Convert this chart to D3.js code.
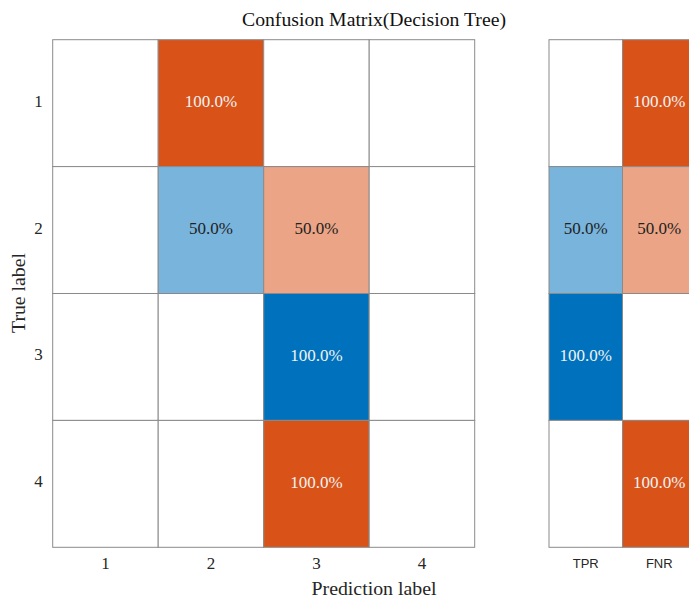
<!DOCTYPE html>
<html>
<head>
<meta charset="utf-8">
<script src="https://cdn.jsdelivr.net/npm/d3@7/dist/d3.min.js"></script>
<style>
  html, body { margin: 0; padding: 0; background: #fff; }
  svg { display: block; }
</style>
</head>
<body>
<svg id="chart" width="689" height="599"></svg>
<script>
// Class labels (true and predicted)
const classes = ["1", "2", "3", "4"];
// Row-normalised confusion matrix, percent (rows = true label, columns = predicted label)
const row1 = [0, 100, 0, 0];
const row2 = [0, 50, 50, 0];
const row3 = [0, 0, 100, 0];
const row4 = [0, 0, 100, 0];
const matrix = [row1, row2, row3, row4];
// Per-class summary columns
const summaryLabels = ["TPR", "FNR"];
const tpr = [0, 50, 100, 0];
const fnr = [100, 50, 0, 100];

const titleText = "Confusion Matrix(Decision Tree)";
const xTitle = "Prediction label";
const yTitle = "True label";

const blue = "#0072BD", orange = "#D95319", border = "#8a8a8a";
const serif = "'Liberation Serif', 'DejaVu Serif', serif";
const sans = "'Liberation Sans', Arial, sans-serif";

const svg = d3.select("#chart");

const x = d3.scaleBand().domain(classes).range([52.7, 474.7]);
const y = d3.scaleBand().domain(classes).range([39.7, 547.3]);
const xs = d3.scaleBand().domain(summaryLabels).range([549, 696]);

// intensity: share of the base colour mixed into white
const mix = d3.scaleLinear().domain([0, 100]).range([0.06, 1]);
const fillFor = (v, good) => v === 0 ? "#fff" : d3.interpolateRgb("#fff", good ? blue : orange)(mix(v));
const textFor = v => v > 60 ? "#f2f2f2" : "#222";

// main matrix cells
const cells = [];
matrix.forEach((row, i) => row.forEach((v, j) => cells.push({ t: classes[i], p: classes[j], v, good: i === j })));

const g = svg.append("g");
g.selectAll("rect.cell").data(cells).join("rect")
  .attr("class", "cell")
  .attr("x", d => x(d.p)).attr("y", d => y(d.t))
  .attr("width", x.bandwidth()).attr("height", y.bandwidth())
  .attr("fill", d => fillFor(d.v, d.good))
  .attr("stroke", border).attr("stroke-width", 1);

g.selectAll("text.val").data(cells.filter(d => d.v > 0)).join("text")
  .attr("class", "val")
  .attr("x", d => x(d.p) + x.bandwidth() / 2)
  .attr("y", d => y(d.t) + y.bandwidth() / 2)
  .attr("dy", "0.22em").attr("text-anchor", "middle")
  .attr("font-family", serif).attr("font-size", 17)
  .attr("fill", d => textFor(d.v))
  .text(d => d.v.toFixed(1) + "%");

// summary columns
const summary = [];
classes.forEach((c, i) => {
  summary.push({ t: c, col: "TPR", v: tpr[i], good: true });
  summary.push({ t: c, col: "FNR", v: fnr[i], good: false });
});
const s = svg.append("g");
s.selectAll("rect").data(summary).join("rect")
  .attr("x", d => xs(d.col)).attr("y", d => y(d.t))
  .attr("width", xs.bandwidth()).attr("height", y.bandwidth())
  .attr("fill", d => fillFor(d.v, d.good))
  .attr("stroke", border).attr("stroke-width", 1);
s.selectAll("text").data(summary.filter(d => d.v > 0)).join("text")
  .attr("x", d => xs(d.col) + xs.bandwidth() / 2)
  .attr("y", d => y(d.t) + y.bandwidth() / 2)
  .attr("dy", "0.22em").attr("text-anchor", "middle")
  .attr("font-family", serif).attr("font-size", 17)
  .attr("fill", d => textFor(d.v))
  .text(d => d.v.toFixed(1) + "%");

// axes
const xAxis = svg.append("g").attr("transform", "translate(0,547.3)")
  .call(d3.axisBottom(x).tickSize(0).tickPadding(10));
const yAxis = svg.append("g").attr("transform", "translate(52.7,-2)")
  .call(d3.axisLeft(y).tickSize(0).tickPadding(10));
const sAxis = svg.append("g").attr("transform", "translate(0,547.3)")
  .call(d3.axisBottom(xs).tickSize(0).tickPadding(11));
[xAxis, yAxis, sAxis].forEach(a => a.select(".domain").remove());
[xAxis, yAxis].forEach(a => a.selectAll("text").attr("font-family", serif).attr("font-size", 17).attr("fill", "#262626"));
sAxis.selectAll("text").attr("font-family", sans).attr("font-size", 13).attr("fill", "#262626");

// titles
svg.append("text").attr("x", 374).attr("y", 26).attr("text-anchor", "middle")
  .attr("font-family", serif).attr("font-size", 18).attr("fill", "#111")
  .attr("textLength", 264).attr("lengthAdjust", "spacingAndGlyphs")
  .text(titleText);
svg.append("text").attr("x", 374).attr("y", 595).attr("text-anchor", "middle")
  .attr("font-family", serif).attr("font-size", 19).attr("fill", "#262626")
  .attr("textLength", 125).attr("lengthAdjust", "spacingAndGlyphs")
  .text(xTitle);
svg.append("text").attr("transform", "translate(25,293) rotate(-90)").attr("text-anchor", "middle")
  .attr("font-family", serif).attr("font-size", 19).attr("fill", "#262626")
  .attr("textLength", 80).attr("lengthAdjust", "spacingAndGlyphs")
  .text(yTitle);
</script>
</body>
</html>
